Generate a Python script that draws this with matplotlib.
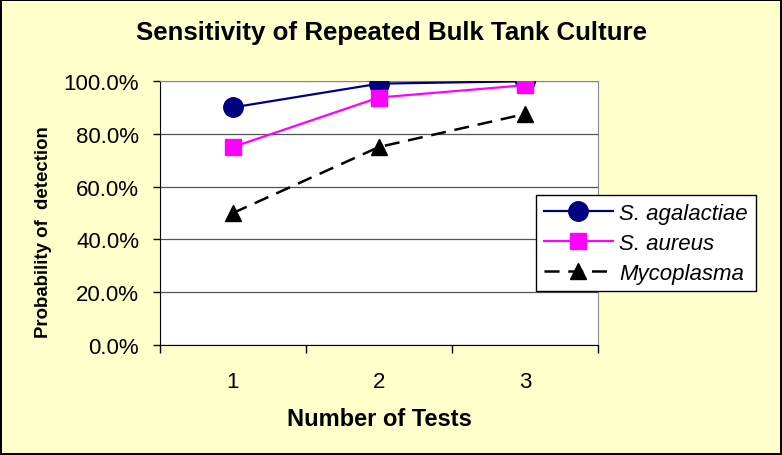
import matplotlib.pyplot as plt
from matplotlib.ticker import FixedLocator, PercentFormatter

plt.rcParams['font.family'] = ['Liberation Sans', 'DejaVu Sans']

tests = [1, 2, 3]
agalactiae = [90.0, 99.0, 99.9]
aureus = [75.0, 93.75, 98.4]
mycoplasma = [50.0, 75.0, 87.5]

fig = plt.figure(figsize=(7.82, 4.56), dpi=100)
fig.patch.set_facecolor('#FFFFCC')
fig.patch.set_edgecolor('black')
fig.patch.set_linewidth(1.5)

ax = fig.add_axes([160/782, 110/456, 438/782, 264/456])
ax.set_facecolor('white')

ax.plot(tests, agalactiae, '-o', color='#000080', lw=1.6, ms=14, label='S. agalactiae', zorder=3)
ax.plot(tests, aureus, '-s', color='#FF00FF', lw=1.6, ms=11, label='S. aureus', zorder=3)
ax.plot(tests, mycoplasma, '--^', color='black', lw=1.8, ms=12, dashes=(6, 3.5), label='Mycoplasma', zorder=3)

ax.set_xlim(0.5, 3.5)
ax.set_ylim(0, 100)
ax.set_yticks([0, 20, 40, 60, 80, 100])
ax.yaxis.set_major_formatter(PercentFormatter(decimals=1))
ax.yaxis.grid(True, color='#555555', lw=0.9)
ax.set_axisbelow(True)

ax.set_xticks(tests)
ax.xaxis.set_minor_locator(FixedLocator([0.5, 1.5, 2.5, 3.5]))
ax.tick_params(axis='x', which='major', length=0, labelsize=16, pad=19)
ax.tick_params(axis='x', which='minor', length=6, width=1, direction='out')
ax.tick_params(axis='y', length=5, width=1, direction='out', labelsize=16, pad=10)

for side in ['top', 'right']:
    ax.spines[side].set_color('#888888')
for side in ['left', 'bottom']:
    ax.spines[side].set_color('black')

ax.set_xlabel('Number of Tests', fontsize=17, fontweight='bold')
ax.xaxis.set_label_coords(0.5, -(420 - 346) / 264)
ax.set_ylabel('Probability of  detection', fontsize=13.4, fontweight='bold')
ax.yaxis.set_label_coords(-(160 - 44) / 438, (346 - 232) / 264)
ax.xaxis.label.set_va('center')
ax.yaxis.label.set_va('center')
fig.suptitle('Sensitivity of Repeated Bulk Tank Culture', fontsize=18.6, fontweight='bold',
             x=392/782, y=1-33/456, va='center')

leg = ax.legend(loc='upper left', bbox_to_anchor=(536/782, 1-196/456), bbox_transform=fig.transFigure,
                borderaxespad=0, fancybox=False, edgecolor='black', framealpha=1,
                prop={'style': 'italic', 'size': 16}, handlelength=3.1, labelspacing=0.4,
                borderpad=0.35, handletextpad=0.3)
leg.get_frame().set_linewidth(1)

fig.savefig('out.png', dpi=100, facecolor=fig.get_facecolor(), edgecolor=fig.get_edgecolor())
